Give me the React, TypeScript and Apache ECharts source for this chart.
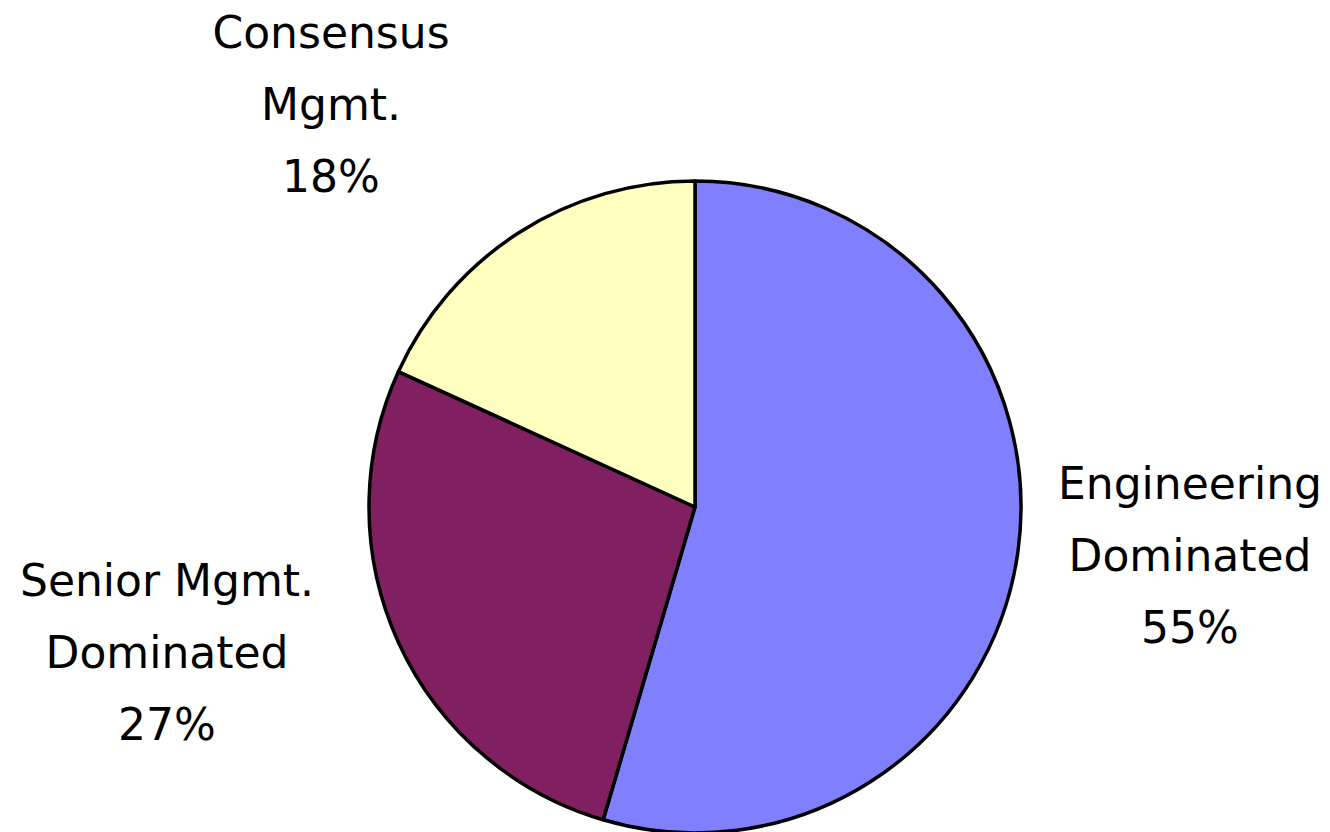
import React, { useEffect, useRef } from "react";
import * as echarts from "echarts";

const categories = ["Engineering\nDominated", "Senior Mgmt.\nDominated", "Consensus\nMgmt."];
// slice sizes (shown as rounded percentages 55% / 27% / 18%)
const values = [6, 3, 2];
const colors = ["#8080FF", "#802060", "#FFFFC0"];
const labelCenters = [
  [1190, 555],
  [167, 652],
  [331, 104],
];

export default function App() {
  const ref = useRef<HTMLDivElement>(null);
  useEffect(() => {
    document.body.style.margin = "0";
    const chart = echarts.init(ref.current!, undefined, { renderer: "svg" });
    chart.setOption({
      animation: false,
      backgroundColor: "#ffffff",
      series: [
        {
          type: "pie",
          center: [695, 507],
          radius: 326,
          startAngle: 90,
          clockwise: true,
          percentPrecision: 0,
          avoidLabelOverlap: false,
          itemStyle: { borderColor: "#000000", borderWidth: 3.5 },
          label: {
            show: true,
            position: "outside",
            formatter: "{b}\n{d}%",
            fontFamily: "DejaVu Sans",
            fontSize: 44,
            lineHeight: 72,
            color: "#000000",
            align: "center",
            overflow: "none",
            width: 400,
          },
          labelLine: { show: false },
          labelLayout: (params: any) => {
            const p = labelCenters[params.dataIndex];
            return { x: p[0], y: p[1], align: "center", verticalAlign: "middle" };
          },
          emphasis: { disabled: true },
          data: categories.map((name, i) => ({
            name,
            value: values[i],
            itemStyle: { color: colors[i] },
          })),
        },
      ],
    });
    return () => chart.dispose();
  }, []);
  return <div ref={ref} style={{ width: 1330, height: 832 }} />;
}
